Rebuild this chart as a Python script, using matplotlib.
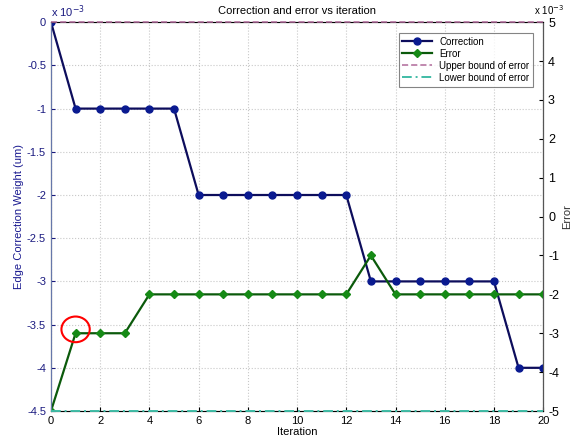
import matplotlib
matplotlib.use('Agg')
import matplotlib.pyplot as plt
from matplotlib.patches import Ellipse
from matplotlib.ticker import FuncFormatter

plt.rcParams['font.family'] = ['Liberation Sans', 'DejaVu Sans']

# Data (values in units of 1e-3)
iteration = list(range(21))
correction = [0, -1, -1, -1, -1, -1, -2, -2, -2, -2, -2, -2, -2,
              -3, -3, -3, -3, -3, -3, -4, -4]
error = [-5, -3, -3, -3, -2, -2, -2, -2, -2, -2, -2, -2, -2,
         -1, -2, -2, -2, -2, -2, -2, -2]
upper_bound = 5
lower_bound = -5
scale = 1e-3

correction_v = [c * scale for c in correction]
error_v = [e * scale for e in error]

fig = plt.figure(figsize=(5.76, 4.44), dpi=100)
ax = fig.add_axes([0.0885, 0.0743, 0.8545, 0.8757])
ax2 = ax.twinx()

l1, = ax.plot(iteration, correction_v, '-o', color='#0d0d5c', mfc='#0a1a90', mec='#0a1a90',
              ms=5, lw=1.6, zorder=3, label='Correction')
l2, = ax2.plot(iteration, error_v, '-D', color='#0b5a0b', mfc='#168a16', mec='#168a16',
               ms=4, lw=1.6, label='Error')
l3, = ax2.plot([0, 20], [upper_bound * scale] * 2, '--', color='#b06a9a', lw=1.1,
               label='Upper bound of error', clip_on=False, zorder=4)
l4, = ax2.plot([0, 20], [lower_bound * scale] * 2, '-.', color='#40bca6', lw=1.4,
               label='Lower bound of error', clip_on=False, zorder=4)
l3.set_dashes([4, 2])
l4.set_dashes([5, 2, 1, 2])

ax.set_xlim(0, 20)
ax.set_ylim(-4.5e-3, 0)
ax2.set_ylim(-5e-3, 5e-3)
ax.set_xticks(range(0, 21, 2))
ax.set_yticks([-i * 0.5e-3 for i in range(10)])
ax2.set_yticks([i * 1e-3 for i in range(-5, 6)])
fmt = FuncFormatter(lambda v, p: '%g' % round(v * 1e3, 2))
ax.yaxis.set_major_formatter(fmt)
ax2.yaxis.set_major_formatter(fmt)

ax.grid(True, linestyle=':', color='#c8c8c8', lw=0.8)
ax.tick_params(direction='in', labelsize=8, length=3)
ax.tick_params(axis='y', colors='#1a1a80', labelcolor='#1a1a80')
ax2.tick_params(direction='in', labelsize=9, length=3)
for s in ['top', 'bottom']:
    ax.spines[s].set_color('#888888')
ax2.spines['left'].set_color('#6677aa')
ax2.spines['right'].set_color('#555555')

ax.set_title('Correction and error vs iteration', fontsize=8, pad=6)
ax.set_xlabel('Iteration', fontsize=8, labelpad=1)
ax.set_ylabel('Edge Correction Weight (um)', fontsize=8, color='#1a1a90', labelpad=2)
ax2.set_ylabel('Error', fontsize=8, color='#333333', labelpad=2)

ax.text(0.0, 1.005, r'x 10$^{-3}$', transform=ax.transAxes, fontsize=8, color='#1a1a80',
        ha='left', va='bottom')
ax2.text(1.012, 1.014, r'x 10$^{-3}$', transform=ax2.transAxes, fontsize=7,
         ha='center', va='bottom')

ax2.add_patch(Ellipse((1, -2.9e-3), 1.15, 0.66e-3, fill=False, edgecolor='red', lw=1.5,
                      zorder=5))

leg = ax2.legend(handles=[l1, l2, l3, l4], loc='upper right', fontsize=7,
                 fancybox=False, edgecolor='#666666', borderpad=0.4, labelspacing=0.2,
                 handlelength=3, bbox_to_anchor=(0.99, 0.985))
leg.get_frame().set_linewidth(0.8)

fig.savefig('out.png', dpi=100)
